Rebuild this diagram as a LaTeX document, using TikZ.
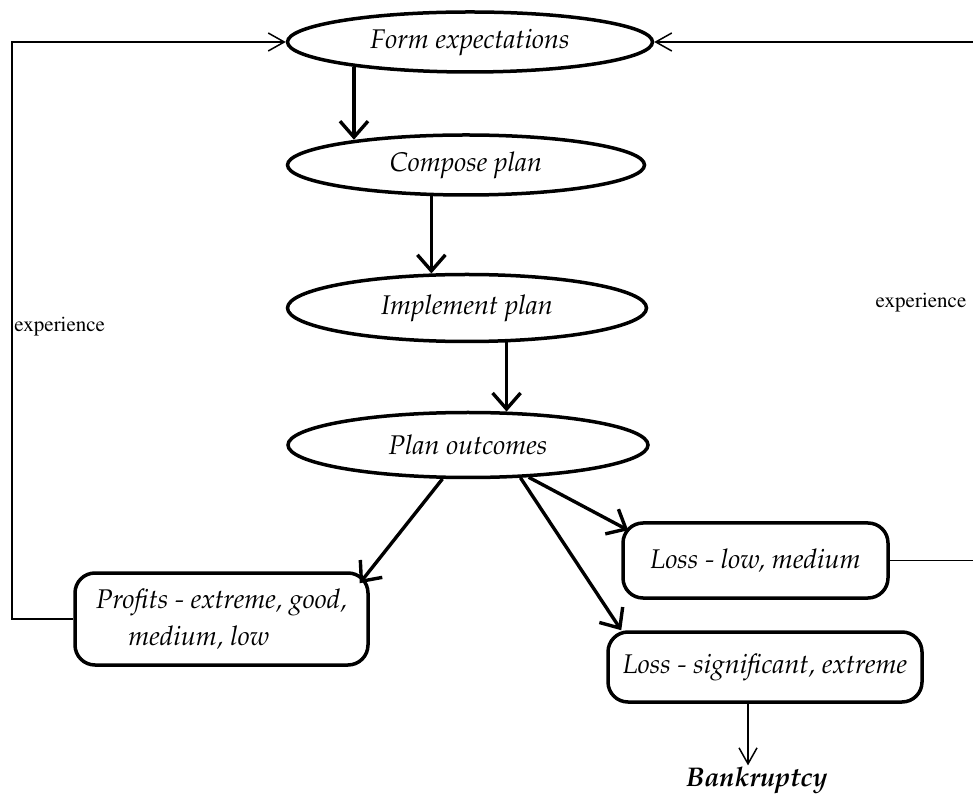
\documentclass[tikz,border=0pt]{standalone}
\usepackage[T1]{fontenc}
\usepackage{mathpazo}
\usetikzlibrary{arrows.meta,shapes.geometric}
\begin{document}
\begin{tikzpicture}[x=0.5pt,y=-0.5pt,
  stage/.style={ellipse,draw,line width=1.75pt,inner sep=0pt,
    font=\fontsize{13.5}{16}\selectfont\itshape},
  outcome/.style={rectangle,rounded corners=10pt,draw,line width=1.75pt,inner sep=0pt,
    font=\fontsize{13.5}{18.5}\selectfont\itshape},
  flow/.style={line width=1.7pt,-{Straight Barb[length=8pt,width=14pt]}},
  feedback/.style={line width=0.75pt,-{Straight Barb[length=8pt,width=9pt]}},
  lbl/.style={inner sep=0pt,font=\fontfamily{ptm}\selectfont\fontsize{10.5}{12}\selectfont}]
\useasboundingbox (0,0) rectangle (973,795);
% stages
\node[stage,minimum width=182.5pt,minimum height=30pt] (fe) at (470,42) {Form expectations};
\node[stage,minimum width=178.5pt,minimum height=30pt] (cp) at (466,165) {Compose plan};
\node[stage,minimum width=179.5pt,minimum height=33.5pt] (ip) at (467,308) {Implement plan};
\node[stage,minimum width=180pt,minimum height=32.5pt] (po) at (468,445) {Plan outcomes};
% outcomes
\node[outcome,minimum width=146.5pt,minimum height=46pt,align=left] (pr) at (221.5,619)
  {Profits - extreme, good,\\\hspace*{1.2em}medium, low};
\node[outcome,minimum width=132.5pt,minimum height=37.5pt] (ll) at (755.5,560.5) {Loss - low, medium};
\node[outcome,minimum width=157pt,minimum height=35pt] (ls) at (765,667) {Loss - significant, extreme};
\node[inner sep=1pt,font=\fontsize{13.5}{16}\selectfont\bfseries\itshape] (bk) at (757,781) {Bankruptcy};
% labels
\node[lbl,anchor=west] (el) at (14,327) {experience};
\node[lbl] (er) at (921,303) {experience};
% main flow
\draw[flow] (fe.192) -- (fe.192 |- cp.167);
\draw[flow] (cp.222) -- (cp.222 |- ip.136);
\draw[flow] (ip.319) -- (ip.319 |- po.40);
\draw[flow] (po.233) -- ([xshift=-5pt,yshift=-6pt]pr.north east);
\draw[flow] (po.-28) -- ([xshift=3.5pt,yshift=-4.5pt]ll.north west);
\draw[flow] (po.-32) -- ([xshift=7.5pt]ls.north west);
\draw[feedback] ([xshift=-8.5pt]ls.south) -- ([xshift=-8.5pt]ls.south |- bk.north);
% feedback loops
\coordinate (lc) at (12,42);
\coordinate (rc) at (974,42);
\draw[feedback] (pr.west) -| (lc) -- (fe.west);
\draw[feedback] (ll.east) -| (rc) -- (fe.east);
\end{tikzpicture}
\end{document}
